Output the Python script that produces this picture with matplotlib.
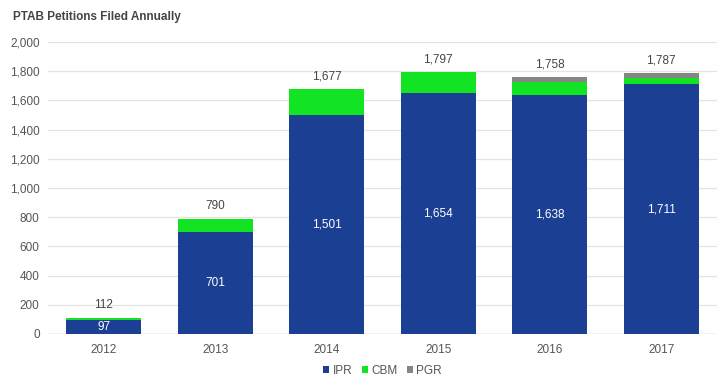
import numpy as np
import matplotlib.pyplot as plt

plt.rcParams['font.family'] = ['Liberation Sans', 'DejaVu Sans']

years = ['2012', '2013', '2014', '2015', '2016', '2017']
ipr = [97, 701, 1501, 1654, 1638, 1711]
cbm = [15, 89, 176, 143, 89, 40]
pgr = [0, 0, 0, 0, 31, 36]
totals = [112, 790, 1677, 1797, 1758, 1787]

c_ipr = '#1b3f92'
c_cbm = '#12e323'
c_pgr = '#858585'
txt = '#555555'

fig = plt.figure(figsize=(7.26, 3.83), dpi=100)
ax = fig.add_axes([48 / 726, 1 - 334 / 383, 669 / 726, 292 / 383])

x = np.arange(len(years))
w = 0.67
ipr_a = np.array(ipr)
cbm_a = np.array(cbm)
pgr_a = np.array(pgr)
ax.bar(x, ipr_a, w, color=c_ipr, label='IPR', zorder=2)
ax.bar(x, cbm_a, w, bottom=ipr_a, color=c_cbm, label='CBM', zorder=2)
ax.bar(x, pgr_a, w, bottom=ipr_a + cbm_a, color=c_pgr, label='PGR', zorder=2)

for i in range(len(years)):
    ax.text(x[i], totals[i] + 45, f'{totals[i]:,}', ha='center', va='bottom',
            fontsize=8.5, color='#444444')
    ax.text(x[i], ipr[i] / 2, f'{ipr[i]:,}', ha='center', va='center',
            fontsize=8.5, color='white')

ax.set_xlim(-0.5, len(years) - 0.5)
ax.set_ylim(0, 2000)
ax.set_yticks(range(0, 2001, 200))
ax.set_yticklabels([f'{v:,}' for v in range(0, 2001, 200)])
ax.set_xticks(x)
ax.set_xticklabels(years)
ax.yaxis.grid(True, color='#e3e3e3', linewidth=0.9, zorder=0)
for s in ax.spines.values():
    s.set_visible(False)
ax.axhline(0, color='#d0d0d0', linewidth=1, zorder=1)
ax.tick_params(axis='y', length=0, pad=6, labelsize=8.5, labelcolor=txt)
ax.tick_params(axis='x', length=0, pad=7, labelsize=8.5, labelcolor=txt)

fig.text(13 / 726, 1 - 17 / 383, 'PTAB Petitions Filed Annually', fontsize=8.5,
         fontweight='bold', color='#444444', va='center', ha='left')

ax.legend(loc='center', bbox_to_anchor=(0.5, -0.125), ncol=3, frameon=False,
          fontsize=8.5, labelcolor=txt, handlelength=0.5, handleheight=0.5,
          handletextpad=0.3, columnspacing=0.8)

fig.savefig('out.png', dpi=100)
